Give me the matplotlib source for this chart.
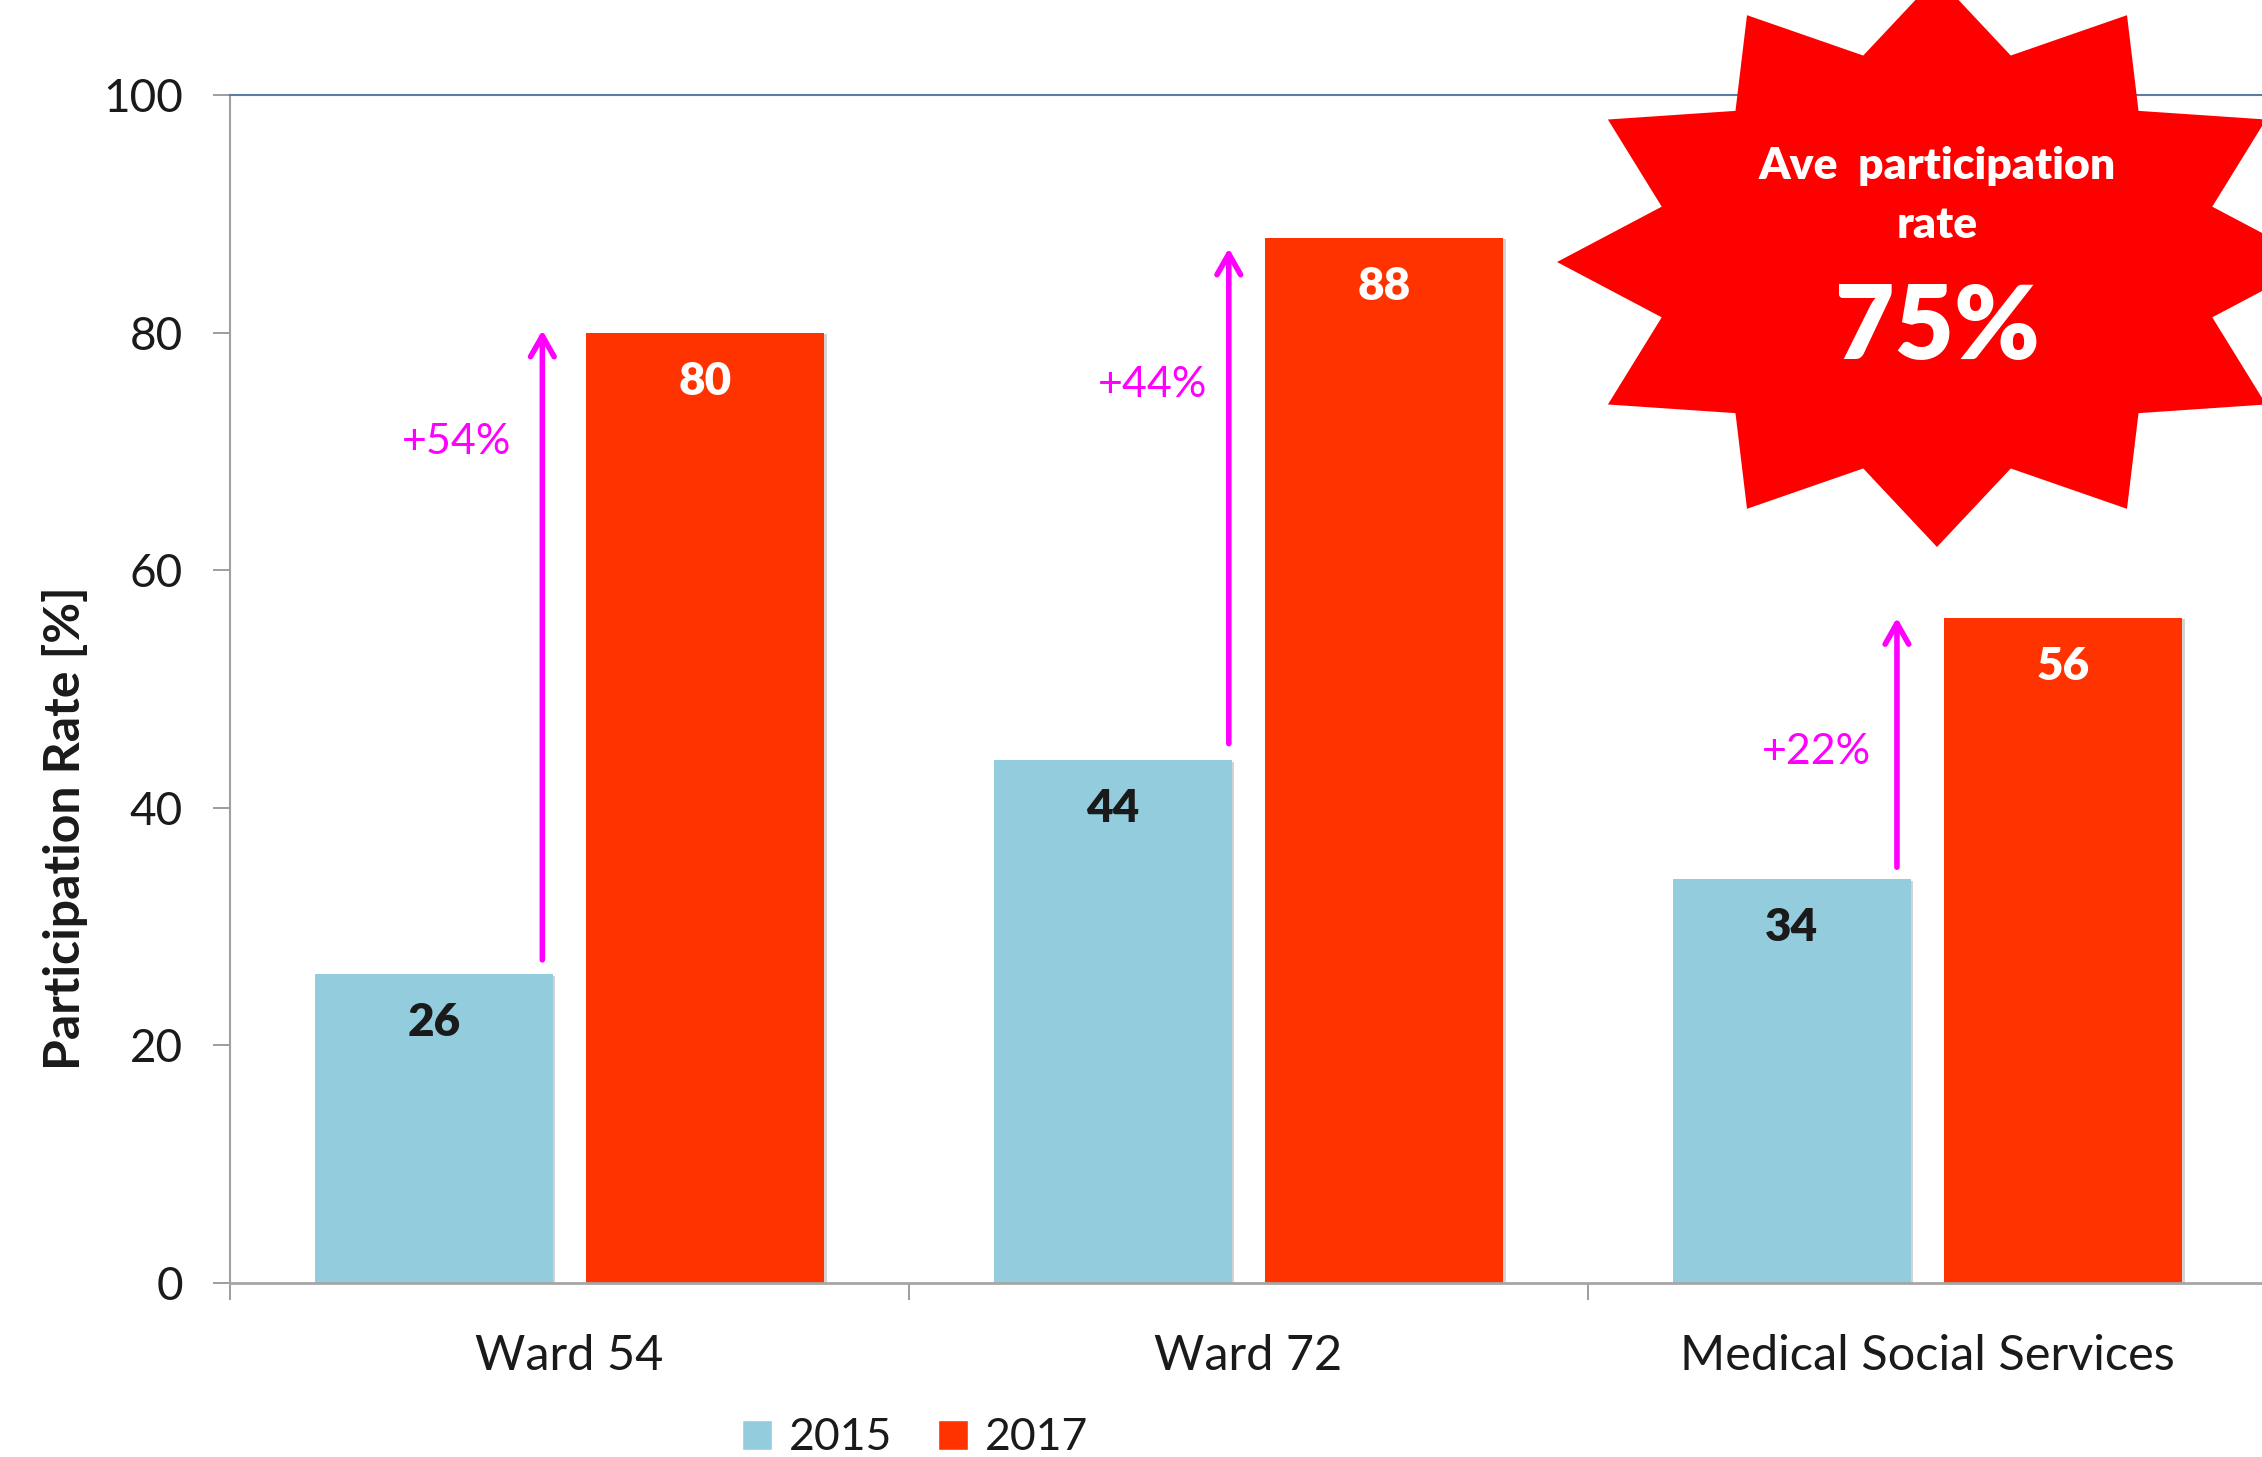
import matplotlib
matplotlib.use('Agg')
import matplotlib.pyplot as plt
import matplotlib.patheffects as pe
from matplotlib.patches import Polygon, Patch
import numpy as np

# ---------------- data ----------------
categories = ['Ward 54', 'Ward 72', 'Medical Social Services']
series_names = ['2015', '2017']
values_2015 = [26, 44, 34]
values_2017 = [80, 88, 56]
change_labels = ['+54%', '+44%', '+22%']
arrow_from = [27.2, 45.4, 35.0]
arrow_to = [80.2, 87.1, 56.0]
change_label_y = [70.8, 75.6, 44.7]
yticks = [0, 20, 40, 60, 80, 100]
badge_lines = ['Ave  participation', 'rate']
badge_value = '75%'

# ---------------- layout / style ----------------
plt.rcParams['font.family'] = ['Lato', 'DejaVu Sans']
W, H = 2262, 1457
C2015, C2017 = '#93CDDD', '#FF3300'
MAGENTA = '#FF00FF'
TXT = '#1a1a1a'
HEAVY = 'heavy'
ARROW_DX = [-0.040, -0.029, -0.045]
LABEL_DX = [-0.166, -0.142, -0.164]

fig = plt.figure(figsize=(W / 100, H / 100), dpi=100)
ax = fig.add_axes([230 / W, 174 / H, 2037 / W, 1188 / H])

x = np.arange(len(categories))
bw, off = 0.35, 0.2
shadow = [pe.SimplePatchShadow(offset=(2.0, -1.2), shadow_rgbFace='#7f7f7f', alpha=0.35), pe.Normal()]
b1 = ax.bar(x - off, values_2015, bw, color=C2015, zorder=2)
b2 = ax.bar(x + off, values_2017, bw, color=C2017, zorder=2)
for b in list(b1) + list(b2):
    b.set_path_effects(shadow)

# value labels inside bars
for xi, v in zip(x - off, values_2015):
    ax.annotate(str(v), (xi, v), xytext=(0, -35), textcoords='offset points',
                ha='center', va='center', fontsize=33, fontweight=HEAVY, color=TXT, zorder=4)
for xi, v in zip(x + off, values_2017):
    ax.annotate(str(v), (xi, v), xytext=(0, -35), textcoords='offset points',
                ha='center', va='center', fontsize=33, fontweight=HEAVY, color='white', zorder=4)

# change arrows and labels
for i in range(len(categories)):
    ax.annotate('', xy=(x[i] + ARROW_DX[i], arrow_to[i]), xytext=(x[i] + ARROW_DX[i], arrow_from[i]),
                arrowprops=dict(arrowstyle='->,head_length=1.5,head_width=0.85', color=MAGENTA,
                                lw=4.0, shrinkA=0, shrinkB=0, capstyle='round', joinstyle='round'),
                zorder=5)
    ax.text(x[i] + LABEL_DX[i], change_label_y[i], change_labels[i], ha='center', va='center',
            fontsize=31, color=MAGENTA, zorder=5)

# axes styling
ax.set_xlim(-0.5, 2.5)
ax.set_ylim(0, 100)
ax.set_yticks(yticks)
ax.tick_params(axis='y', length=12, width=1.2, color='#8C8C8C', pad=22, labelsize=33, labelcolor=TXT)
ax.set_xticks([-0.5, 0.5, 1.5, 2.5])
ax.set_xticklabels([])
ax.tick_params(axis='x', which='major', length=12, width=1.2, color='#8C8C8C')
ax.set_xticks(x, minor=True)
ax.set_xticklabels(categories, minor=True)
ax.tick_params(axis='x', which='minor', length=0, pad=37, labelsize=35, labelcolor=TXT)
ax.spines['right'].set_visible(False)
ax.spines['left'].set_color('#A0A0A0')
ax.spines['left'].set_linewidth(1.5)
ax.spines['bottom'].set_color('#A6A6A6')
ax.spines['bottom'].set_linewidth(2)
ax.spines['top'].set_color('#5B7BA5')
ax.spines['top'].set_linewidth(1.5)

fig.text(65 / W, 1 - 828 / H, 'Participation Rate [%]', rotation=90, ha='center', va='center',
         fontsize=36, fontweight='bold', color=TXT)

# legend
handles = [Patch(facecolor=C2015, edgecolor='white'), Patch(facecolor=C2017, edgecolor='white')]
fig.legend(handles, series_names, loc='center', bbox_to_anchor=(915 / W, 1 - 1438 / H), ncol=2,
           frameon=False, fontsize=32, handlelength=0.68, handleheight=0.68, handletextpad=0.37,
           columnspacing=1.04, borderpad=0, borderaxespad=0, labelcolor=TXT)

# starburst badge
cx, cy = 1937 / W, 1 - 262 / H
rx, ry = 380 / W, 285 / H
ang = np.deg2rad(np.arange(24) * 15)
rr = np.where(np.arange(24) % 2 == 0, 1.0, 0.75)
pts = np.column_stack([cx + rx * rr * np.cos(ang), cy + ry * rr * np.sin(ang)])
fig.add_artist(Polygon(pts, closed=True, transform=fig.transFigure, facecolor='#FF0000',
                       edgecolor='none', zorder=10))
fig.text(cx, 1 - 178.6 / H, badge_lines[0], ha='center', va='baseline', color='white',
         fontsize=32, fontweight=HEAVY, zorder=11)
fig.text(cx, 1 - 237.5 / H, badge_lines[1], ha='center', va='baseline', color='white',
         fontsize=32, fontweight=HEAVY, zorder=11)
fig.text(cx, 1 - 359 / H, badge_value, ha='center', va='baseline', color='white',
         fontsize=74, fontweight=HEAVY, zorder=11)

fig.savefig('out.png', dpi=100)
